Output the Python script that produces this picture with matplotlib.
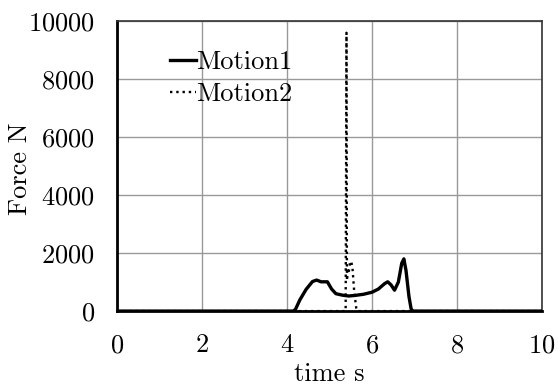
import matplotlib
matplotlib.use("Agg")
import matplotlib.pyplot as plt

# force history of the two motions (time in s, force in N)
t_motion1 = [0.0, 4.15, 4.2, 4.3, 4.45, 4.6, 4.7, 4.8, 4.95, 5.05, 5.15, 5.3,
             5.45, 5.6, 5.8, 6.0, 6.15, 6.3, 6.37, 6.45, 6.53, 6.62, 6.7,
             6.75, 6.8, 6.87, 6.92, 6.96, 10.0]
f_motion1 = [0, 0, 60, 380, 750, 1020, 1070, 1010, 1010, 760, 600, 550,
             520, 540, 580, 650, 760, 950, 1010, 900, 720, 1000, 1650,
             1800, 1400, 500, 80, 0, 0]

t_motion2 = [0.0, 5.38, 5.40, 5.41, 5.43, 5.45, 5.48, 5.51, 5.54, 5.58,
             5.63, 5.65, 10.0]
f_motion2 = [0, 0, 9600, 1050, 1400, 1300, 1650, 1720, 1500, 700, 100, 0, 0]

x_ticks = [0, 2, 4, 6, 8, 10]
y_ticks = [0, 2000, 4000, 6000, 8000, 10000]

plt.rcParams["font.family"] = ["cmr10", "DejaVu Serif"]
plt.rcParams["axes.formatter.use_mathtext"] = True
plt.rcParams["font.size"] = 19

fig = plt.figure(figsize=(5.58, 3.85), dpi=100)
ax = fig.add_axes([0.2097, 0.192, 0.7616, 0.753])

ax.plot(t_motion2, f_motion2, color="black", linestyle=":", linewidth=1.7,
        label="Motion2", zorder=3)
ax.plot(t_motion1, f_motion1, color="black", linestyle="-", linewidth=2.4,
        label="Motion1", zorder=4)

ax.set_xlim(0, 10)
ax.set_ylim(0, 10000)
ax.set_xticks(x_ticks)
ax.set_yticks(y_ticks)
ax.tick_params(axis="x", length=0, pad=16)
ax.tick_params(axis="y", length=0, pad=16)
ax.grid(True, color="#999999", linewidth=1.0)
ax.set_axisbelow(True)

for side in ("left", "bottom"):
    ax.spines[side].set_linewidth(2.0)
    ax.spines[side].set_color("black")
for side in ("top", "right"):
    ax.spines[side].set_linewidth(1.2)
    ax.spines[side].set_color("#333333")

ax.set_xlabel("time s", labelpad=4)
ax.set_ylabel("Force N")
ax.yaxis.set_label_coords(-0.2, 0.49)

handles, labels = ax.get_legend_handles_labels()
ax.legend(handles[::-1], labels[::-1], loc="upper left",
          bbox_to_anchor=(0.10, 0.935), frameon=False, handlelength=1.0,
          handletextpad=0.0, borderaxespad=0, labelspacing=0.3)

fig.savefig("out.png", dpi=100)
